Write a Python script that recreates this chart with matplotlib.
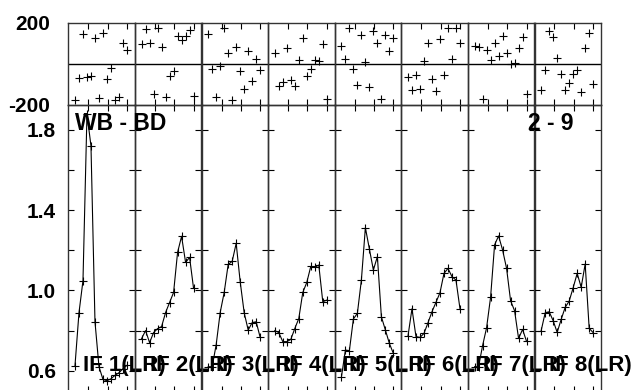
import numpy as np
import matplotlib.pyplot as plt

plt.rcParams['font.family'] = ['Liberation Sans', 'DejaVu Sans']
plt.rcParams['font.weight'] = 'bold'

# Dane: 8 pasm IF, po 14 kanałów
kanaly = np.arange(14)

amplitudy = [
    [0.625, 0.889, 1.049, 1.88, 1.72, 0.844, 0.62, 0.557, 0.55, 0.56, 0.577, 0.59, 0.61, 0.627],
    [0.76, 0.80, 0.74, 0.79, 0.81, 0.82, 0.89, 0.94, 0.99, 1.19, 1.27, 1.14, 1.165, 1.01],
    [0.62, 0.62, 0.73, 0.89, 0.99, 1.13, 1.145, 1.235, 1.044, 0.889, 0.803, 0.84, 0.844, 0.766],
    [0.80, 0.79, 0.745, 0.745, 0.756, 0.81, 0.86, 0.99, 1.04, 1.12, 1.115, 1.127, 0.944, 0.952],
    [0.567, 0.703, 0.70, 0.858, 0.886, 1.052, 1.313, 1.207, 1.102, 1.169, 0.869, 0.803, 0.736, 0.686],
    [0.773, 0.909, 0.77, 0.766, 0.786, 0.839, 0.894, 0.941, 0.989, 1.085, 1.11, 1.069, 1.052, 0.909],
    [0.62, 0.62, 0.725, 0.814, 0.966, 1.227, 1.272, 1.202, 1.11, 0.949, 0.899, 0.761, 0.806, 0.746],
    [0.80, 0.889, 0.894, 0.849, 0.791, 0.856, 0.916, 0.947, 1.014, 1.085, 1.016, 1.132, 0.811, 0.79],
]

fazy = [
    [-176, -70, 143, -68, -60, 125, -167, 151, -78, -21, -176, -163, 102, 65],
    [93, 168, 102, -150, 174, 80, -165, -60, -37, 135, 114, 135, 163, -160],
    [146, -26, -164, -10, 174, 49, -176, 81, -37, -123, 60, -86, 21, -31],
    [50, -112, -88, 75, -80, -112, 15, 125, -59, -26, 18, 11, 96, -172],
    [86, 21, 174, -28, -106, 141, 8, -117, 158, 102, -174, 141, 60, 122],
    [-65, -130, -54, -125, 11, 98, -76, -133, 119, -57, 174, 24, 171, 102],
    [86, 81, -171, 65, 16, 98, 37, 135, 49, 0, 3, 76, 130, -151],
    [-130, -33, 158, 130, 28, -49, -130, -93, -49, -33, -141, 76, 151, -102],
]

etykiety = ['IF 1(LR)', 'IF 2(LR)', 'IF 3(LR)', 'IF 4(LR)',
            'IF 5(LR)', 'IF 6(LR)', 'IF 7(LR)', 'IF 8(LR)']

y_ticki = [0.6, 0.8, 1.0, 1.2, 1.4, 1.6, 1.8]
y_etykiety = ['0.6', '', '1.0', '', '1.4', '', '1.8']

# Geometria (piksele)
W, H = 641, 390
lewo, szer = 68.3, 66.6
gora_top, dol_top = 22.5, 104.5
dol_bottom = 392.0

fig = plt.figure(figsize=(W / 100, H / 100), dpi=100)

xlim = (-1.67, 14.98)
x_ticki = [3.33, 8.17, 13.0]

for i in range(8):
    x0 = (lewo + i * szer) / W

    # Panel fazy
    ax_f = fig.add_axes([x0, (H - dol_top) / H, szer / W, (dol_top - gora_top) / H])
    ax_f.set_facecolor('none')
    ax_f.plot(kanaly, fazy[i], '+', color='black', markersize=5.5, mew=0.8)
    ax_f.axhline(0, color='black', linewidth=1.0)
    ax_f.set_xlim(*xlim)
    ax_f.set_ylim(-200, 200)
    ax_f.set_xticks(x_ticki)
    ax_f.tick_params(axis='x', direction='in', length=4, width=0.8,
                     top=True, bottom=True, labelbottom=False)
    if i == 0:
        ax_f.set_yticks([-200, 200])
        ax_f.set_yticklabels(['-200', '200'], fontsize=15, fontweight='bold')
        ax_f.tick_params(axis='y', length=0, pad=13)
    else:
        ax_f.set_yticks([])
    for s in ax_f.spines.values():
        s.set_linewidth(1.0)
        s.set_color('#333333')

    # Panel amplitudy
    ax_a = fig.add_axes([x0, (H - dol_bottom) / H, szer / W, (dol_bottom - dol_top) / H])
    ax_a.set_facecolor('none')
    ax_a.plot(kanaly, amplitudy[i], '-+', color='black', linewidth=0.8,
              markersize=5.5, mew=0.8)
    ax_a.set_xlim(*xlim)
    ax_a.set_ylim(0.494, 1.927)
    ax_a.set_xticks(x_ticki)
    ax_a.tick_params(axis='x', direction='in', length=4, width=0.8,
                     top=True, bottom=True, labelbottom=False)
    ax_a.set_yticks(y_ticki)
    ax_a.tick_params(axis='y', direction='in', length=4.5, width=0.8,
                     left=True, right=True)
    if i == 0:
        ax_a.set_yticklabels(y_etykiety, fontsize=15, fontweight='bold')
        ax_a.tick_params(axis='y', pad=9)
    else:
        ax_a.set_yticklabels([])
    for s in ax_a.spines.values():
        s.set_linewidth(1.0)
        s.set_color('#333333')

    ax_a.text(2.0, 0.6, etykiety[i], fontsize=16, fontweight='bold',
              va='baseline', ha='left', clip_on=False, zorder=5)

fig.text(75 / W, (H - 130) / H, 'WB - BD', fontsize=16.5, fontweight='bold',
         va='baseline', ha='left')
fig.text(574 / W, (H - 130) / H, '2 - 9', fontsize=16.5, fontweight='bold',
         va='baseline', ha='right')

plt.savefig('out.png', dpi=100)
